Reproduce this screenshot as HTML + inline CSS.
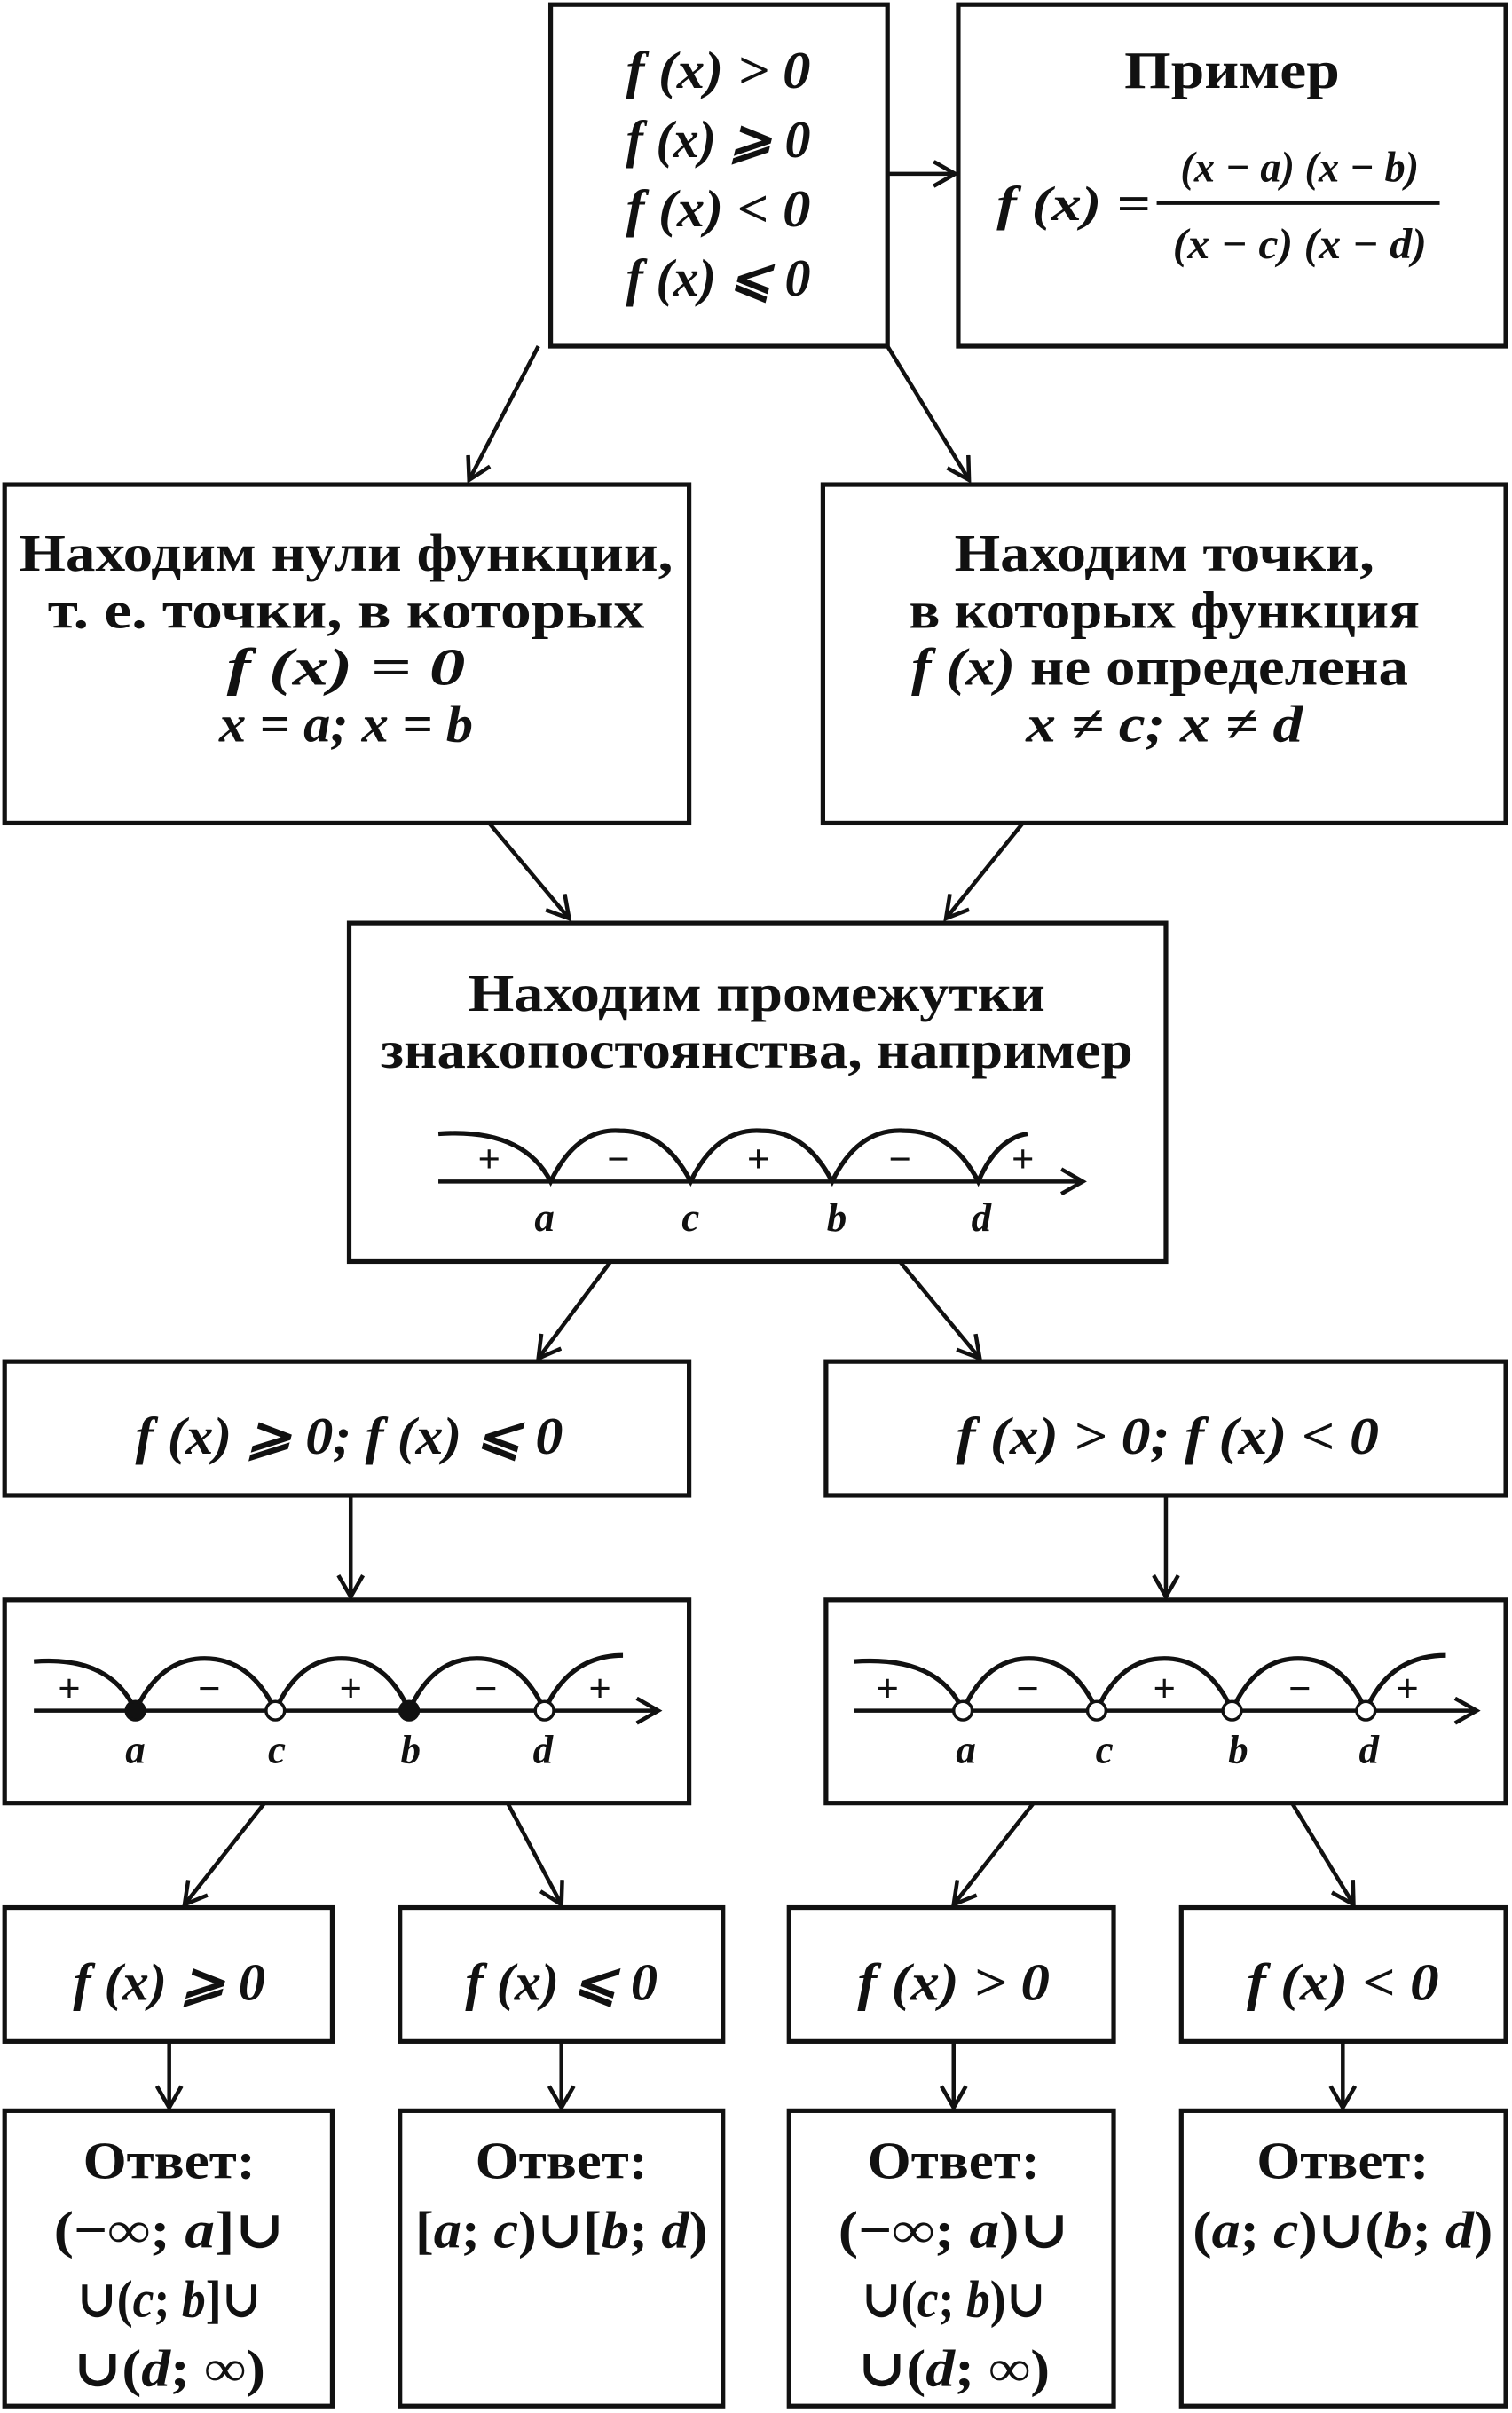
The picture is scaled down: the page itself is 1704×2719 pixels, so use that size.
<!DOCTYPE html>
<html><head><meta charset="utf-8"><style>
html,body{margin:0;padding:0;background:#fff;}
svg{display:block;}
text{font-family:"Liberation Serif","DejaVu Serif",serif;font-weight:bold;fill:#111;}
.m{font-style:italic;}
</style></head><body>
<svg width="1704" height="2719" viewBox="0 0 983 1568.5" preserveAspectRatio="none" xmlns="http://www.w3.org/2000/svg">
<defs>
<marker id="ar" markerWidth="18" markerHeight="18" refX="15" refY="9" orient="auto" markerUnits="userSpaceOnUse">
<path d="M1,1 L15,9 L1,17" fill="none" stroke="#111" stroke-width="2.6"/>
</marker>
</defs>
<g fill="none" stroke="#111" stroke-width="3">
<rect x="358" y="3" width="219" height="222"/>
<rect x="623" y="3" width="356" height="222"/>
<rect x="3" y="315" width="445" height="220"/>
<rect x="535" y="315" width="444" height="220"/>
<rect x="227" y="600" width="531" height="220"/>
<rect x="3" y="885" width="445" height="87"/>
<rect x="537" y="885" width="442" height="87"/>
<rect x="3" y="1040" width="445" height="132"/>
<rect x="537" y="1040" width="442" height="132"/>
<rect x="3" y="1240" width="213" height="87"/>
<rect x="260" y="1240" width="210" height="87"/>
<rect x="513" y="1240" width="211" height="87"/>
<rect x="768" y="1240" width="211" height="87"/>
<rect x="3" y="1372" width="213" height="192"/>
<rect x="260" y="1372" width="210" height="192"/>
<rect x="513" y="1372" width="211" height="192"/>
<rect x="768" y="1372" width="211" height="192"/>
</g>
<g stroke="#111" stroke-width="2.6" marker-end="url(#ar)">
<line x1="577" y1="113" x2="621" y2="113"/>
<line x1="350" y1="225" x2="305" y2="312"/>
<line x1="577" y1="225" x2="630" y2="312"/>
<line x1="318" y1="535" x2="370" y2="597"/>
<line x1="665" y1="535" x2="615" y2="597"/>
<line x1="397" y1="820" x2="350" y2="883"/>
<line x1="585" y1="820" x2="637" y2="883"/>
<line x1="228" y1="972" x2="228" y2="1038"/>
<line x1="758" y1="972" x2="758" y2="1038"/>
<line x1="172" y1="1172" x2="120" y2="1238"/>
<line x1="330" y1="1172" x2="365" y2="1238"/>
<line x1="672" y1="1172" x2="620" y2="1238"/>
<line x1="840" y1="1172" x2="880" y2="1238"/>
<line x1="110" y1="1327" x2="110" y2="1370"/>
<line x1="365" y1="1327" x2="365" y2="1370"/>
<line x1="620" y1="1327" x2="620" y2="1370"/>
<line x1="873" y1="1327" x2="873" y2="1370"/>
<line x1="285" y1="768" x2="704" y2="768"/>
<line x1="22" y1="1112" x2="428" y2="1112"/>
<line x1="555" y1="1112" x2="960" y2="1112"/>
</g>
<g fill="none" stroke="#111" stroke-width="3">
<path d="M285,737 Q340,733 358,768 Q375,733 403,735 Q432,735 449,768 Q466,733 495,735 Q524,735 541,768 Q558,733 588,735 Q619,735 636,768 Q648,740 668,737"/>
<path d="M22,1080 Q72,1076 88,1112 Q104,1078 133,1078 Q163,1078 179,1112 Q194,1078 222,1078 Q251,1078 266,1112 Q281,1078 310,1078 Q339,1078 354,1112 Q370,1076 405,1076"/>
<path d="M555,1080 Q610,1076 626,1112 Q641,1078 669,1078 Q698,1078 713,1112 Q728,1078 757,1078 Q786,1078 801,1112 Q816,1078 844,1078 Q873,1078 888,1112 Q903,1076 940,1076"/>
</g>
<g stroke="#111" stroke-width="2">
<circle cx="88" cy="1112" r="6" fill="#111"/>
<circle cx="266" cy="1112" r="6" fill="#111"/>
<circle cx="179" cy="1112" r="6" fill="#fff"/>
<circle cx="354" cy="1112" r="6" fill="#fff"/>
<circle cx="626" cy="1112" r="6" fill="#fff"/>
<circle cx="713" cy="1112" r="6" fill="#fff"/>
<circle cx="801" cy="1112" r="6" fill="#fff"/>
<circle cx="888" cy="1112" r="6" fill="#fff"/>
</g>
<g font-size="34" text-anchor="middle" lengthAdjust="spacingAndGlyphs">
<text x="467" y="57" class="m" textLength="120" lengthAdjust="spacingAndGlyphs">f (x) &gt; 0</text>
<text x="467" y="102" class="m" textLength="120" lengthAdjust="spacingAndGlyphs">f (x) ⩾ 0</text>
<text x="467" y="147" class="m" textLength="120" lengthAdjust="spacingAndGlyphs">f (x) &lt; 0</text>
<text x="467" y="192" class="m" textLength="120" lengthAdjust="spacingAndGlyphs">f (x) ⩽ 0</text>
<text x="801" y="57" textLength="140" lengthAdjust="spacingAndGlyphs">Пример</text>
<text x="225" y="371" textLength="425" lengthAdjust="spacingAndGlyphs">Находим нули функции,</text>
<text x="225" y="408" textLength="388" lengthAdjust="spacingAndGlyphs">т.  е.  точки, в которых</text>
<text x="225" y="445" class="m" textLength="155" lengthAdjust="spacingAndGlyphs">f (x) = 0</text>
<text x="225" y="482" class="m" textLength="165" lengthAdjust="spacingAndGlyphs">x = a;  x = b</text>
<text x="757" y="371" textLength="273" lengthAdjust="spacingAndGlyphs">Находим точки,</text>
<text x="757" y="408" textLength="332" lengthAdjust="spacingAndGlyphs">в которых функция</text>
<text x="754" y="445" textLength="323" lengthAdjust="spacingAndGlyphs"><tspan class="m">f (x)</tspan> не определена</text>
<text x="757" y="482" class="m" textLength="180" lengthAdjust="spacingAndGlyphs">x ≠ c;    x ≠ d</text>
<text x="492" y="657" textLength="375" lengthAdjust="spacingAndGlyphs">Находим промежутки</text>
<text x="492" y="694" textLength="489" lengthAdjust="spacingAndGlyphs">знакопостоянства, например</text>
<text x="227" y="945" class="m" textLength="278" lengthAdjust="spacingAndGlyphs">f (x) ⩾ 0;   f (x) ⩽ 0</text>
<text x="759" y="945" class="m" textLength="275" lengthAdjust="spacingAndGlyphs">f (x) &gt; 0;   f (x) &lt; 0</text>
<text x="110" y="1300" class="m" textLength="125" lengthAdjust="spacingAndGlyphs">f (x) ⩾ 0</text>
<text x="365" y="1300" class="m" textLength="125" lengthAdjust="spacingAndGlyphs">f (x) ⩽ 0</text>
<text x="620" y="1300" class="m" textLength="125" lengthAdjust="spacingAndGlyphs">f (x) &gt; 0</text>
<text x="873" y="1300" class="m" textLength="125" lengthAdjust="spacingAndGlyphs">f (x) &lt; 0</text>
<text x="110" y="1416" textLength="112" lengthAdjust="spacingAndGlyphs">Ответ:</text>
<text x="110" y="1461" textLength="150" lengthAdjust="spacingAndGlyphs">(−∞; <tspan class="m">a</tspan>]∪</text>
<text x="110" y="1506" textLength="120" lengthAdjust="spacingAndGlyphs">∪(<tspan class="m">c</tspan>; <tspan class="m">b</tspan>]∪</text>
<text x="110" y="1551" textLength="125" lengthAdjust="spacingAndGlyphs">∪(<tspan class="m">d</tspan>; ∞)</text>
<text x="365" y="1416" textLength="112" lengthAdjust="spacingAndGlyphs">Ответ:</text>
<text x="365" y="1461" textLength="190" lengthAdjust="spacingAndGlyphs">[<tspan class="m">a</tspan>; <tspan class="m">c</tspan>)∪[<tspan class="m">b</tspan>; <tspan class="m">d</tspan>)</text>
<text x="620" y="1416" textLength="112" lengthAdjust="spacingAndGlyphs">Ответ:</text>
<text x="620" y="1461" textLength="150" lengthAdjust="spacingAndGlyphs">(−∞; <tspan class="m">a</tspan>)∪</text>
<text x="620" y="1506" textLength="120" lengthAdjust="spacingAndGlyphs">∪(<tspan class="m">c</tspan>; <tspan class="m">b</tspan>)∪</text>
<text x="620" y="1551" textLength="125" lengthAdjust="spacingAndGlyphs">∪(<tspan class="m">d</tspan>; ∞)</text>
<text x="873" y="1416" textLength="112" lengthAdjust="spacingAndGlyphs">Ответ:</text>
<text x="873" y="1461" textLength="195" lengthAdjust="spacingAndGlyphs">(<tspan class="m">a</tspan>; <tspan class="m">c</tspan>)∪(<tspan class="m">b</tspan>; <tspan class="m">d</tspan>)</text>
</g>
<text x="648" y="143" font-size="32" class="m" textLength="100" lengthAdjust="spacingAndGlyphs">f (x) =</text>
<line x1="752" y1="132" x2="936" y2="132" stroke="#111" stroke-width="2.4"/>
<text x="845" y="118" font-size="28" class="m" text-anchor="middle" textLength="155" lengthAdjust="spacingAndGlyphs">(x − a) (x − b)</text>
<text x="845" y="168" font-size="28" class="m" text-anchor="middle" textLength="165" lengthAdjust="spacingAndGlyphs">(x − c) (x − d)</text>
<g font-size="26" text-anchor="middle">
<text x="354" y="800" class="m">a</text><text x="449" y="800" class="m">c</text><text x="544" y="800" class="m">b</text><text x="638" y="800" class="m">d</text>
<text x="88" y="1146" class="m">a</text><text x="180" y="1146" class="m">c</text><text x="267" y="1146" class="m">b</text><text x="353" y="1146" class="m">d</text>
<text x="628" y="1146" class="m">a</text><text x="718" y="1146" class="m">c</text><text x="805" y="1146" class="m">b</text><text x="890" y="1146" class="m">d</text>
</g>
<g font-size="26" text-anchor="middle" font-weight="normal">
<text x="318" y="762">+</text><text x="402" y="762">−</text><text x="493" y="762">+</text><text x="585" y="762">−</text><text x="665" y="762">+</text>
<text x="45" y="1106">+</text><text x="136" y="1106">−</text><text x="228" y="1106">+</text><text x="316" y="1106">−</text><text x="390" y="1106">+</text>
<text x="577" y="1106">+</text><text x="668" y="1106">−</text><text x="757" y="1106">+</text><text x="845" y="1106">−</text><text x="915" y="1106">+</text>
</g>
</svg>
</body></html>
